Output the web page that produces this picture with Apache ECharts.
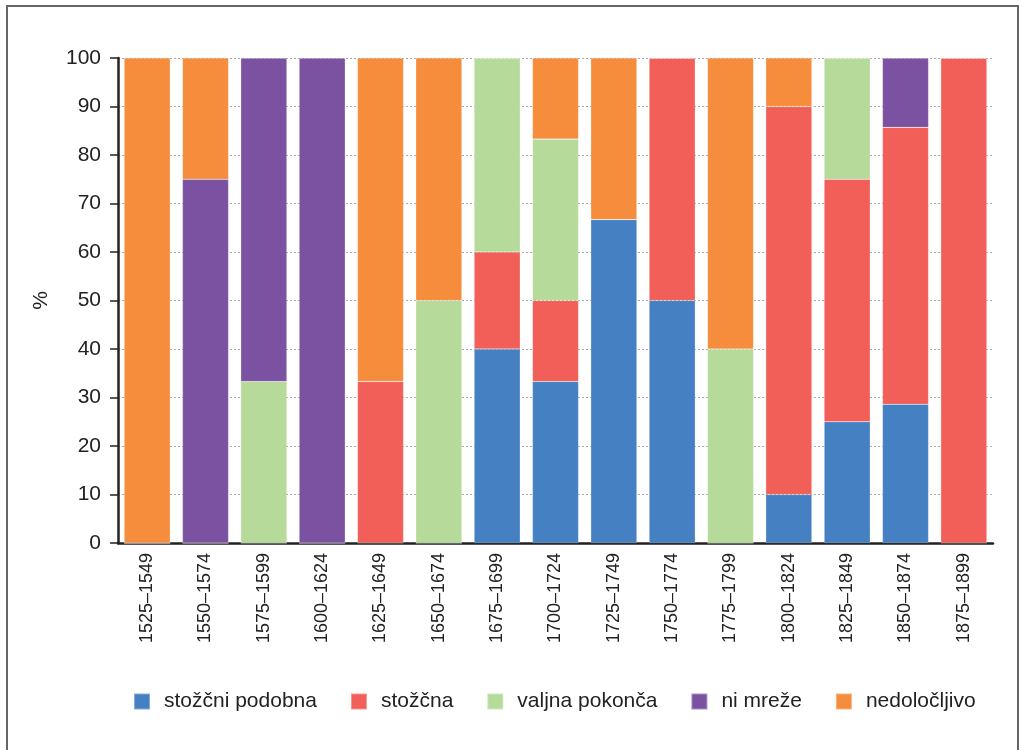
<!DOCTYPE html>
<html>
<head>
<meta charset="utf-8">
<script src="https://cdn.jsdelivr.net/npm/echarts@6/dist/echarts.min.js"></script>
<style>
  html, body { margin: 0; padding: 0; background: #fff; }
  #frame {
    position: absolute; left: 6px; top: 5px; width: 1013px; height: 760px;
    border: 2px solid #666; border-bottom: none; box-sizing: border-box;
  }
  #chart { position: absolute; left: 0; top: 0; width: 1019px; height: 750px; }
</style>
</head>
<body>
<div id="frame"></div>
<div id="chart"></div>
<script>
// Periods
const categories = [
  "1525–1549", "1550–1574", "1575–1599", "1600–1624", "1625–1649",
  "1650–1674", "1675–1699", "1700–1724", "1725–1749", "1750–1774",
  "1775–1799", "1800–1824", "1825–1849", "1850–1874", "1875–1899"
];

// Shares in % per period
const stozcniPodobna = [0, 0, 0, 0, 0, 0, 40, 33.3, 66.7, 50, 0, 10, 25, 28.6, 0];
const stozcna = [0, 0, 0, 0, 33.3, 0, 20, 16.7, 0, 50, 0, 80, 50, 57.1, 100];
const valjnaPokonca = [0, 0, 33.3, 0, 0, 50, 40, 33.3, 0, 0, 40, 0, 25, 0, 0];
const niMreze = [0, 75, 66.7, 100, 0, 0, 0, 0, 0, 0, 0, 0, 0, 14.3, 0];
const nedolocljivo = [100, 25, 0, 0, 66.7, 50, 0, 16.7, 33.3, 0, 60, 10, 0, 0, 0];

const yTicks = [0, 10, 20, 30, 40, 50, 60, 70, 80, 90, 100];

const seriesDefs = [
  { name: "stožčni podobna", data: stozcniPodobna, color: "#4480c2" },
  { name: "stožčna", data: stozcna, color: "#f15f58" },
  { name: "valjna pokonča", data: valjnaPokonca, color: "#b6da9a" },
  { name: "ni mreže", data: niMreze, color: "#7b52a1" },
  { name: "nedoločljivo", data: nedolocljivo, color: "#f58d3d" }
];

const chart = echarts.init(document.getElementById("chart"));

const font = "Liberation Sans, Arial, sans-serif";

chart.setOption({
  animation: false,
  textStyle: { fontFamily: font },
  grid: { left: 118, right: 26, top: 58, bottom: 207, containLabel: false },
  legend: {
    bottom: 33,
    left: 128,
    itemWidth: 16,
    itemHeight: 16,
    itemGap: 33,
    icon: "rect",
    textStyle: { fontSize: 21, color: "#222", fontFamily: font, padding: [0, 0, 0, 9] },
    data: seriesDefs.map(s => s.name)
  },
  xAxis: {
    type: "category",
    data: categories,
    axisLine: { lineStyle: { color: "#222", width: 2.5 } },
    axisTick: { show: false },
    axisLabel: { rotate: 90, fontSize: 18, color: "#222", margin: 10, fontFamily: font }
  },
  yAxis: {
    type: "value",
    min: yTicks[0],
    max: yTicks[yTicks.length - 1],
    interval: 10,
    name: "%",
    nameLocation: "middle",
    nameGap: 66,
    nameRotate: 90,
    nameTextStyle: { fontSize: 21, color: "#222", fontFamily: font },
    axisLine: { show: true, lineStyle: { color: "#222", width: 2.5 } },
    axisTick: { show: true, length: 8, lineStyle: { color: "#222", width: 1.5 } },
    axisLabel: { fontSize: 21, color: "#222", margin: 17, fontFamily: font },
    splitLine: { show: true, lineStyle: { color: "#aaa", type: [2, 2], width: 1 } }
  },
  series: seriesDefs.map(s => ({
    name: s.name,
    type: "bar",
    stack: "total",
    barCategoryGap: "21%",
    data: s.data,
    itemStyle: { color: s.color, borderColor: "rgba(255,255,255,0.35)", borderWidth: 0.5 },
    emphasis: { disabled: true }
  }))
});
</script>
</body>
</html>
